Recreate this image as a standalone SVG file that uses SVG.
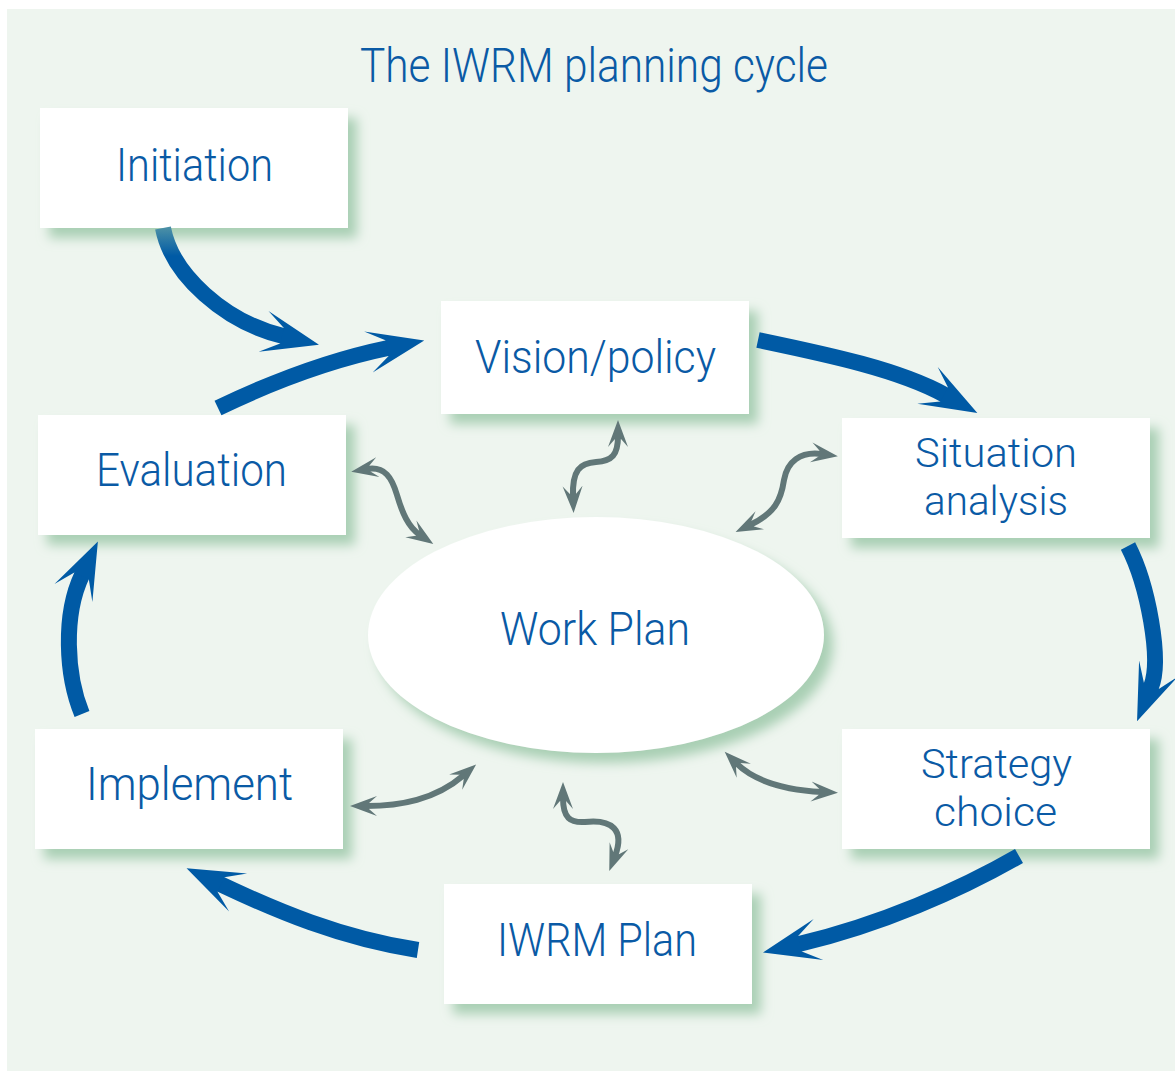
<svg xmlns="http://www.w3.org/2000/svg" width="1175" height="1073" viewBox="0 0 1175 1073">
<style>
.bg{fill:#eef5ef}
.box{fill:#ffffff;filter:url(#sh)}
.lbl{font-family:Roboto,"Liberation Sans",sans-serif;font-weight:300;font-size:46px;fill:#0a5aa5;text-anchor:middle}
.two{font-size:40px}
.ttl{font-size:48px}
.big{fill:none;stroke:#005aa5;stroke-width:16;stroke-linecap:butt;marker-end:url(#bh)}
.sm{fill:none;stroke:#617778;stroke-width:6;stroke-linecap:butt;marker-start:url(#gh);marker-end:url(#gh)}
</style>
<defs>
<filter id="sh" x="-15%" y="-20%" width="135%" height="150%">
<feDropShadow dx="9" dy="10" stdDeviation="6" flood-color="#a9cfb4" flood-opacity="1"/>
</filter>
<linearGradient id="g1" gradientUnits="userSpaceOnUse" x1="0" y1="228" x2="0" y2="256">
<stop offset="0" stop-color="#4a8fa6"/>
<stop offset="1" stop-color="#005aa5"/>
</linearGradient>
<marker id="bh" markerUnits="userSpaceOnUse" markerWidth="60" markerHeight="46" viewBox="0 0 60 46" refX="20" refY="23" orient="auto">
<path d="M0,2 L57,23 L0,44 L19,31 L19,15 Z" fill="#005aa5"/>
</marker>
<marker id="gh" markerUnits="userSpaceOnUse" markerWidth="28" markerHeight="22" viewBox="0 0 28 22" refX="11" refY="11" orient="auto-start-reverse">
<path d="M0,1 L27,11 L0,21 L8,14 L8,8 Z" fill="#617778"/>
</marker>
</defs>
<rect class="bg" x="7" y="9" width="1168" height="1062"/>
<text class="lbl ttl" x="594" y="82" textLength="468" lengthAdjust="spacingAndGlyphs">The IWRM planning cycle</text>

<g id="initiation"><rect class="box" x="40" y="108" width="308" height="120"/><text class="lbl" x="194.5" y="181" textLength="157" lengthAdjust="spacingAndGlyphs">Initiation</text></g>
<g id="vision"><rect class="box" x="441" y="301" width="308" height="113"/><text class="lbl" x="595.5" y="373" textLength="241" lengthAdjust="spacingAndGlyphs">Vision/policy</text></g>
<g id="situation"><rect class="box" x="842" y="418" width="308" height="120"/><text class="lbl two" x="996" y="467" textLength="162" lengthAdjust="spacingAndGlyphs">Situation</text><text class="lbl two" x="996" y="515" textLength="144" lengthAdjust="spacingAndGlyphs">analysis</text></g>
<g id="evaluation"><rect class="box" x="38" y="415" width="308" height="120"/><text class="lbl" x="191.5" y="486" textLength="191" lengthAdjust="spacingAndGlyphs">Evaluation</text></g>
<g id="workplan"><ellipse class="box" cx="596" cy="635" rx="228" ry="118"/><text class="lbl" x="595" y="645" textLength="190" lengthAdjust="spacingAndGlyphs">Work Plan</text></g>
<g id="implement"><rect class="box" x="35" y="729" width="308" height="120"/><text class="lbl" x="189.5" y="800" textLength="207" lengthAdjust="spacingAndGlyphs">Implement</text></g>
<g id="strategy"><rect class="box" x="842" y="729" width="308" height="120"/><text class="lbl two" x="996.5" y="778" textLength="151" lengthAdjust="spacingAndGlyphs">Strategy</text><text class="lbl two" x="995.5" y="826" textLength="123" lengthAdjust="spacingAndGlyphs">choice</text></g>
<g id="iwrmplan"><rect class="box" x="444" y="884" width="308" height="120"/><text class="lbl" x="597" y="956" textLength="200" lengthAdjust="spacingAndGlyphs">IWRM Plan</text></g>

<g id="connectors">
<path class="big" style="stroke:url(#g1)" d="M163,228 C172,275 225,322 283,336"/>
<path class="big" d="M218,408 C270,383 330,360 388,348"/>
<path class="big" d="M758,340 C830,355 900,370 945,395"/>
<path class="big" d="M1128,546 C1148,585 1162,660 1151,687"/>
<path class="big" d="M1019,856 C960,890 880,925 799,944"/>
<path class="big" d="M418,950 C340,938 275,910 220,884"/>
<path class="big" d="M82,714 C66,675 63,615 82,575"/>
<path class="sm" d="M618,436 C618,455 612,461 596,462 C580,463 572,470 573,497"/>
<path class="sm" d="M822,454 C800,451 787,462 784,480 C781,500 775,513 750,525"/>
<path class="sm" d="M367,469 C385,466 392,478 397,495 C402,512 408,527 420,535"/>
<path class="sm" d="M366,806 C400,806 435,800 464,775"/>
<path class="sm" d="M563,798 C563,818 570,823 585,822 C612,819 625,830 615,856"/>
<path class="sm" d="M736,763 C755,782 785,790 822,792"/>
</g>
</svg>
